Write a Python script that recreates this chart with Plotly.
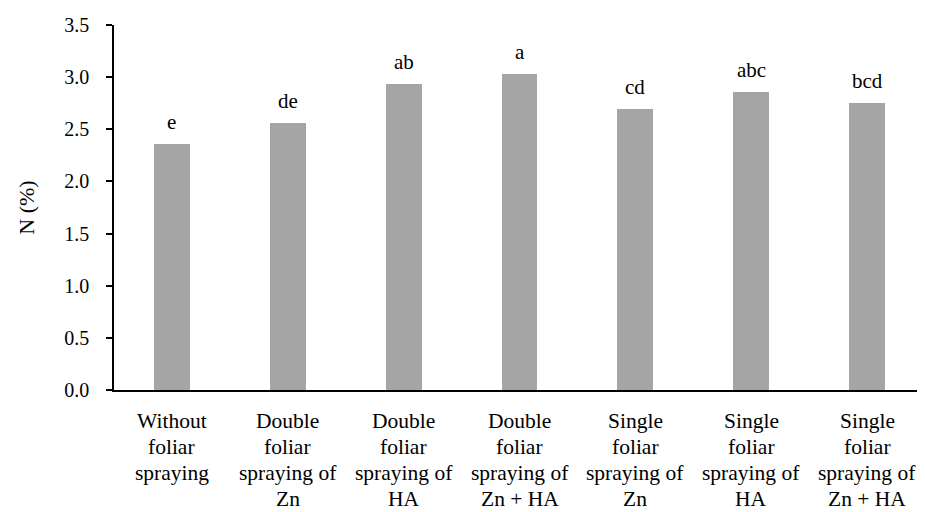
import plotly.graph_objects as go

categories = [
    "Without<br>foliar<br>spraying",
    "Double<br>foliar<br>spraying of<br>Zn",
    "Double<br>foliar<br>spraying of<br>HA",
    "Double<br>foliar<br>spraying of<br>Zn + HA",
    "Single<br>foliar<br>spraying of<br>Zn",
    "Single<br>foliar<br>spraying of<br>HA",
    "Single<br>foliar<br>spraying of<br>Zn + HA",
]
values = [2.36, 2.56, 2.93, 3.03, 2.69, 2.86, 2.75]
letters = ["e", "de", "ab", "a", "cd", "abc", "bcd"]
y_ticks = [0.0, 0.5, 1.0, 1.5, 2.0, 2.5, 3.0, 3.5]
y_title = "N (%)"

FONT = "'Times New Roman', Tinos, 'Liberation Serif', 'DejaVu Serif', serif"
x_idx = list(range(len(categories)))

fig = go.Figure()
fig.add_trace(go.Bar(
    x=x_idx, y=values, width=0.31,
    marker=dict(color="#a5a5a5", line=dict(width=0)),
    showlegend=False, hoverinfo="skip",
))

annotations = []
for i, (v, lab) in enumerate(zip(values, letters)):
    annotations.append(dict(
        x=i, y=v, xref="x", yref="y", text=lab, showarrow=False,
        yanchor="bottom", yshift=8,
        font=dict(family=FONT, size=21, color="#000000"),
    ))
for i, cat in enumerate(categories):
    for k, line in enumerate(cat.split("<br>")):
        annotations.append(dict(
            x=i, y=0, xref="x", yref="paper", text=line, showarrow=False,
            yanchor="middle", yshift=-31 - 26 * k,
            font=dict(family=FONT, size=21.5, color="#000000"),
        ))

fig.update_layout(
    width=917, height=504,
    margin=dict(l=106, r=0, t=17, b=122),
    paper_bgcolor="white", plot_bgcolor="white",
    font=dict(family=FONT, size=21, color="#000000"),
    bargap=0,
    annotations=annotations,
    xaxis=dict(
        range=[-0.5, len(categories) - 0.5],
        showticklabels=False, ticks="",
        showline=True, linecolor="#000000", linewidth=1.5,
        showgrid=False, zeroline=False, fixedrange=True,
    ),
    yaxis=dict(
        range=[0, 3.5], tickvals=y_ticks,
        ticktext=[f"{t:.1f}" for t in y_ticks],
        ticks="outside", ticklen=6, tickwidth=1.5, tickcolor="#000000",
        showline=True, linecolor="#000000", linewidth=1.5,
        showgrid=False, zeroline=False,
        ticklabelstandoff=13,
        tickfont=dict(family=FONT, size=20, color="#000000"),
        title=dict(text=y_title, font=dict(family=FONT, size=22, color="#000000"), standoff=24),
    ),
)

fig.write_html("out.html")
